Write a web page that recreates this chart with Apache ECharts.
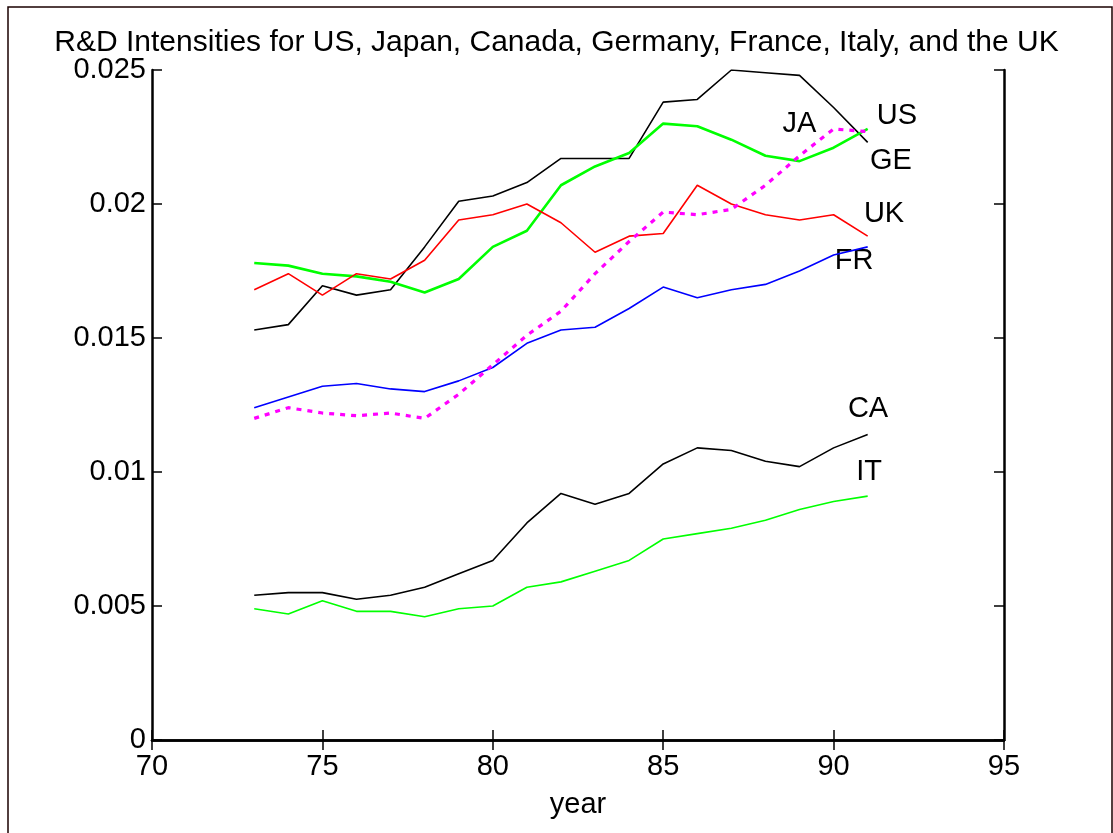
<!DOCTYPE html>
<html>
<head>
<meta charset="utf-8">
<script src="https://cdn.jsdelivr.net/npm/echarts@6/dist/echarts.min.js"></script>
<style>
  html, body { margin: 0; padding: 0; background: #fff; }
  #chart { width: 1113px; height: 833px; }
</style>
</head>
<body>
<div id="chart"></div>
<script>
// years 1973..1991 (two-digit, as on the axis)
const years = [73, 74, 75, 76, 77, 78, 79, 80, 81, 82, 83, 84, 85, 86, 87, 88, 89, 90, 91]
const usData = [0.0153, 0.0155, 0.01695, 0.0166, 0.0168, 0.0184, 0.0201, 0.0203, 0.0208, 0.0217, 0.0217, 0.0217, 0.0238, 0.0239, 0.0250, 0.0249, 0.0248, 0.0236, 0.0223]
const jaData = [0.0120, 0.0124, 0.0122, 0.0121, 0.0122, 0.0120, 0.0129, 0.0140, 0.0151, 0.0160, 0.0174, 0.0186, 0.0197, 0.0196, 0.0198, 0.0207, 0.0218, 0.0228, 0.0227]
const caData = [0.0054, 0.0055, 0.0055, 0.00525, 0.0054, 0.0057, 0.0062, 0.0067, 0.0081, 0.0092, 0.0088, 0.0092, 0.0103, 0.0109, 0.0108, 0.0104, 0.0102, 0.0109, 0.0114]
const geData = [0.0178, 0.0177, 0.0174, 0.0173, 0.0171, 0.0167, 0.0172, 0.0184, 0.0190, 0.0207, 0.0214, 0.0219, 0.0230, 0.0229, 0.0224, 0.0218, 0.0216, 0.0221, 0.0228]
const frData = [0.0124, 0.0128, 0.0132, 0.0133, 0.0131, 0.0130, 0.0134, 0.0139, 0.0148, 0.0153, 0.0154, 0.0161, 0.0169, 0.0165, 0.0168, 0.0170, 0.0175, 0.0181, 0.0184]
const itData = [0.0049, 0.0047, 0.0052, 0.0048, 0.0048, 0.0046, 0.0049, 0.0050, 0.0057, 0.0059, 0.0063, 0.0067, 0.0075, 0.0077, 0.0079, 0.0082, 0.0086, 0.0089, 0.0091]
const ukData = [0.0168, 0.0174, 0.0166, 0.0174, 0.0172, 0.0179, 0.0194, 0.0196, 0.0200, 0.0193, 0.0182, 0.0188, 0.0189, 0.0207, 0.0200, 0.0196, 0.0194, 0.0196, 0.0188]

const yTicks = [0, 0.005, 0.01, 0.015, 0.02, 0.025]
const yTickLabels = ['0', '0.005', '0.01', '0.015', '0.02', '0.025']

// country tags, placed in data coordinates
const tagNames = ['JA', 'US', 'GE', 'UK', 'FR', 'CA', 'IT']
const tagX = [89.0, 91.86, 91.68, 91.48, 90.6, 91.01, 91.04]
const tagY = [0.02299, 0.02328, 0.0216, 0.01963, 0.01787, 0.01235, 0.0100]

const FONT = 'Liberation Sans, Arial, sans-serif'
const pair = arr => years.map((y, i) => [y, arr[i]])

function lineSeries(name, data, color, width, dash) {
  return {
    name: name,
    type: 'line',
    data: pair(data),
    showSymbol: false,
    silent: true,
    animation: false,
    lineStyle: { color: color, width: width, type: dash || 'solid' }
  }
}

const chart = echarts.init(document.getElementById('chart'))
const boxAxisLine = { show: true, lineStyle: { color: '#000', width: 2.5 } }

chart.setOption({
  animation: false,
  title: {
    text: 'R&D Intensities for US, Japan, Canada, Germany, France, Italy, and the UK',
    left: 'center',
    top: 23,
    textStyle: { fontFamily: FONT, fontSize: 30, fontWeight: 'normal', color: '#000' }
  },
  grid: { left: 152, top: 70, right: 109, bottom: 93, containLabel: false },
  xAxis: [
    {
      type: 'value',
      min: 70,
      max: 95,
      interval: 5,
      position: 'bottom',
      name: 'year',
      nameLocation: 'middle',
      nameGap: 50,
      nameTextStyle: { fontFamily: FONT, fontSize: 29, color: '#000' },
      axisLine: boxAxisLine,
      axisTick: { show: true, inside: true, length: 10, lineStyle: { color: '#000', width: 1.5 } },
      axisLabel: { fontFamily: FONT, fontSize: 29, color: '#000', margin: 12 },
      splitLine: { show: false }
    },
    {
      type: 'value',
      min: 70,
      max: 95,
      interval: 5,
      position: 'top',
      axisLine: boxAxisLine,
      axisTick: { show: true, inside: true, length: 10, lineStyle: { color: '#000', width: 1.5 } },
      axisLabel: { show: false },
      splitLine: { show: false }
    }
  ],
  yAxis: [
    {
      type: 'value',
      min: 0,
      max: 0.025,
      interval: 0.005,
      position: 'left',
      axisLine: boxAxisLine,
      axisTick: { show: true, inside: true, length: 10, lineStyle: { color: '#000', width: 1.5 } },
      axisLabel: {
        fontFamily: FONT,
        fontSize: 29,
        color: '#000',
        margin: 6,
        formatter: v => {
          const i = yTicks.findIndex(t => Math.abs(t - v) < 1e-9)
          return i >= 0 ? yTickLabels[i] : ''
        }
      },
      splitLine: { show: false }
    },
    {
      type: 'value',
      min: 0,
      max: 0.025,
      interval: 0.005,
      position: 'right',
      axisLine: boxAxisLine,
      axisTick: { show: true, inside: true, length: 10, lineStyle: { color: '#000', width: 1.5 } },
      axisLabel: { show: false },
      splitLine: { show: false }
    }
  ],
  series: [
    lineSeries('US', usData, '#000000', 1.6),
    lineSeries('CA', caData, '#000000', 1.6),
    lineSeries('GE', geData, '#00ff00', 2.6),
    lineSeries('IT', itData, '#00ff00', 1.6),
    lineSeries('FR', frData, '#0000ff', 1.6),
    lineSeries('UK', ukData, '#ff0000', 1.6),
    lineSeries('JA', jaData, '#ff00ff', 3.2, [5, 6])
  ]
})

// tags and outer figure frame
const tags = tagNames.map((name, i) => {
  const p = chart.convertToPixel({ xAxisIndex: 0, yAxisIndex: 0 }, [tagX[i], tagY[i]])
  return {
    type: 'text',
    x: p[0],
    y: p[1],
    style: {
      text: name,
      fontFamily: FONT,
      fontSize: 29,
      fill: '#000',
      align: 'center',
      verticalAlign: 'middle'
    }
  }
})

chart.setOption({
  graphic: [
    {
      type: 'rect',
      shape: { x: 8, y: 7, width: 1104, height: 840 },
      style: { fill: 'none', stroke: '#1a0000', lineWidth: 1.5 },
      silent: true
    }
  ].concat(tags)
})
</script>
</body>
</html>
